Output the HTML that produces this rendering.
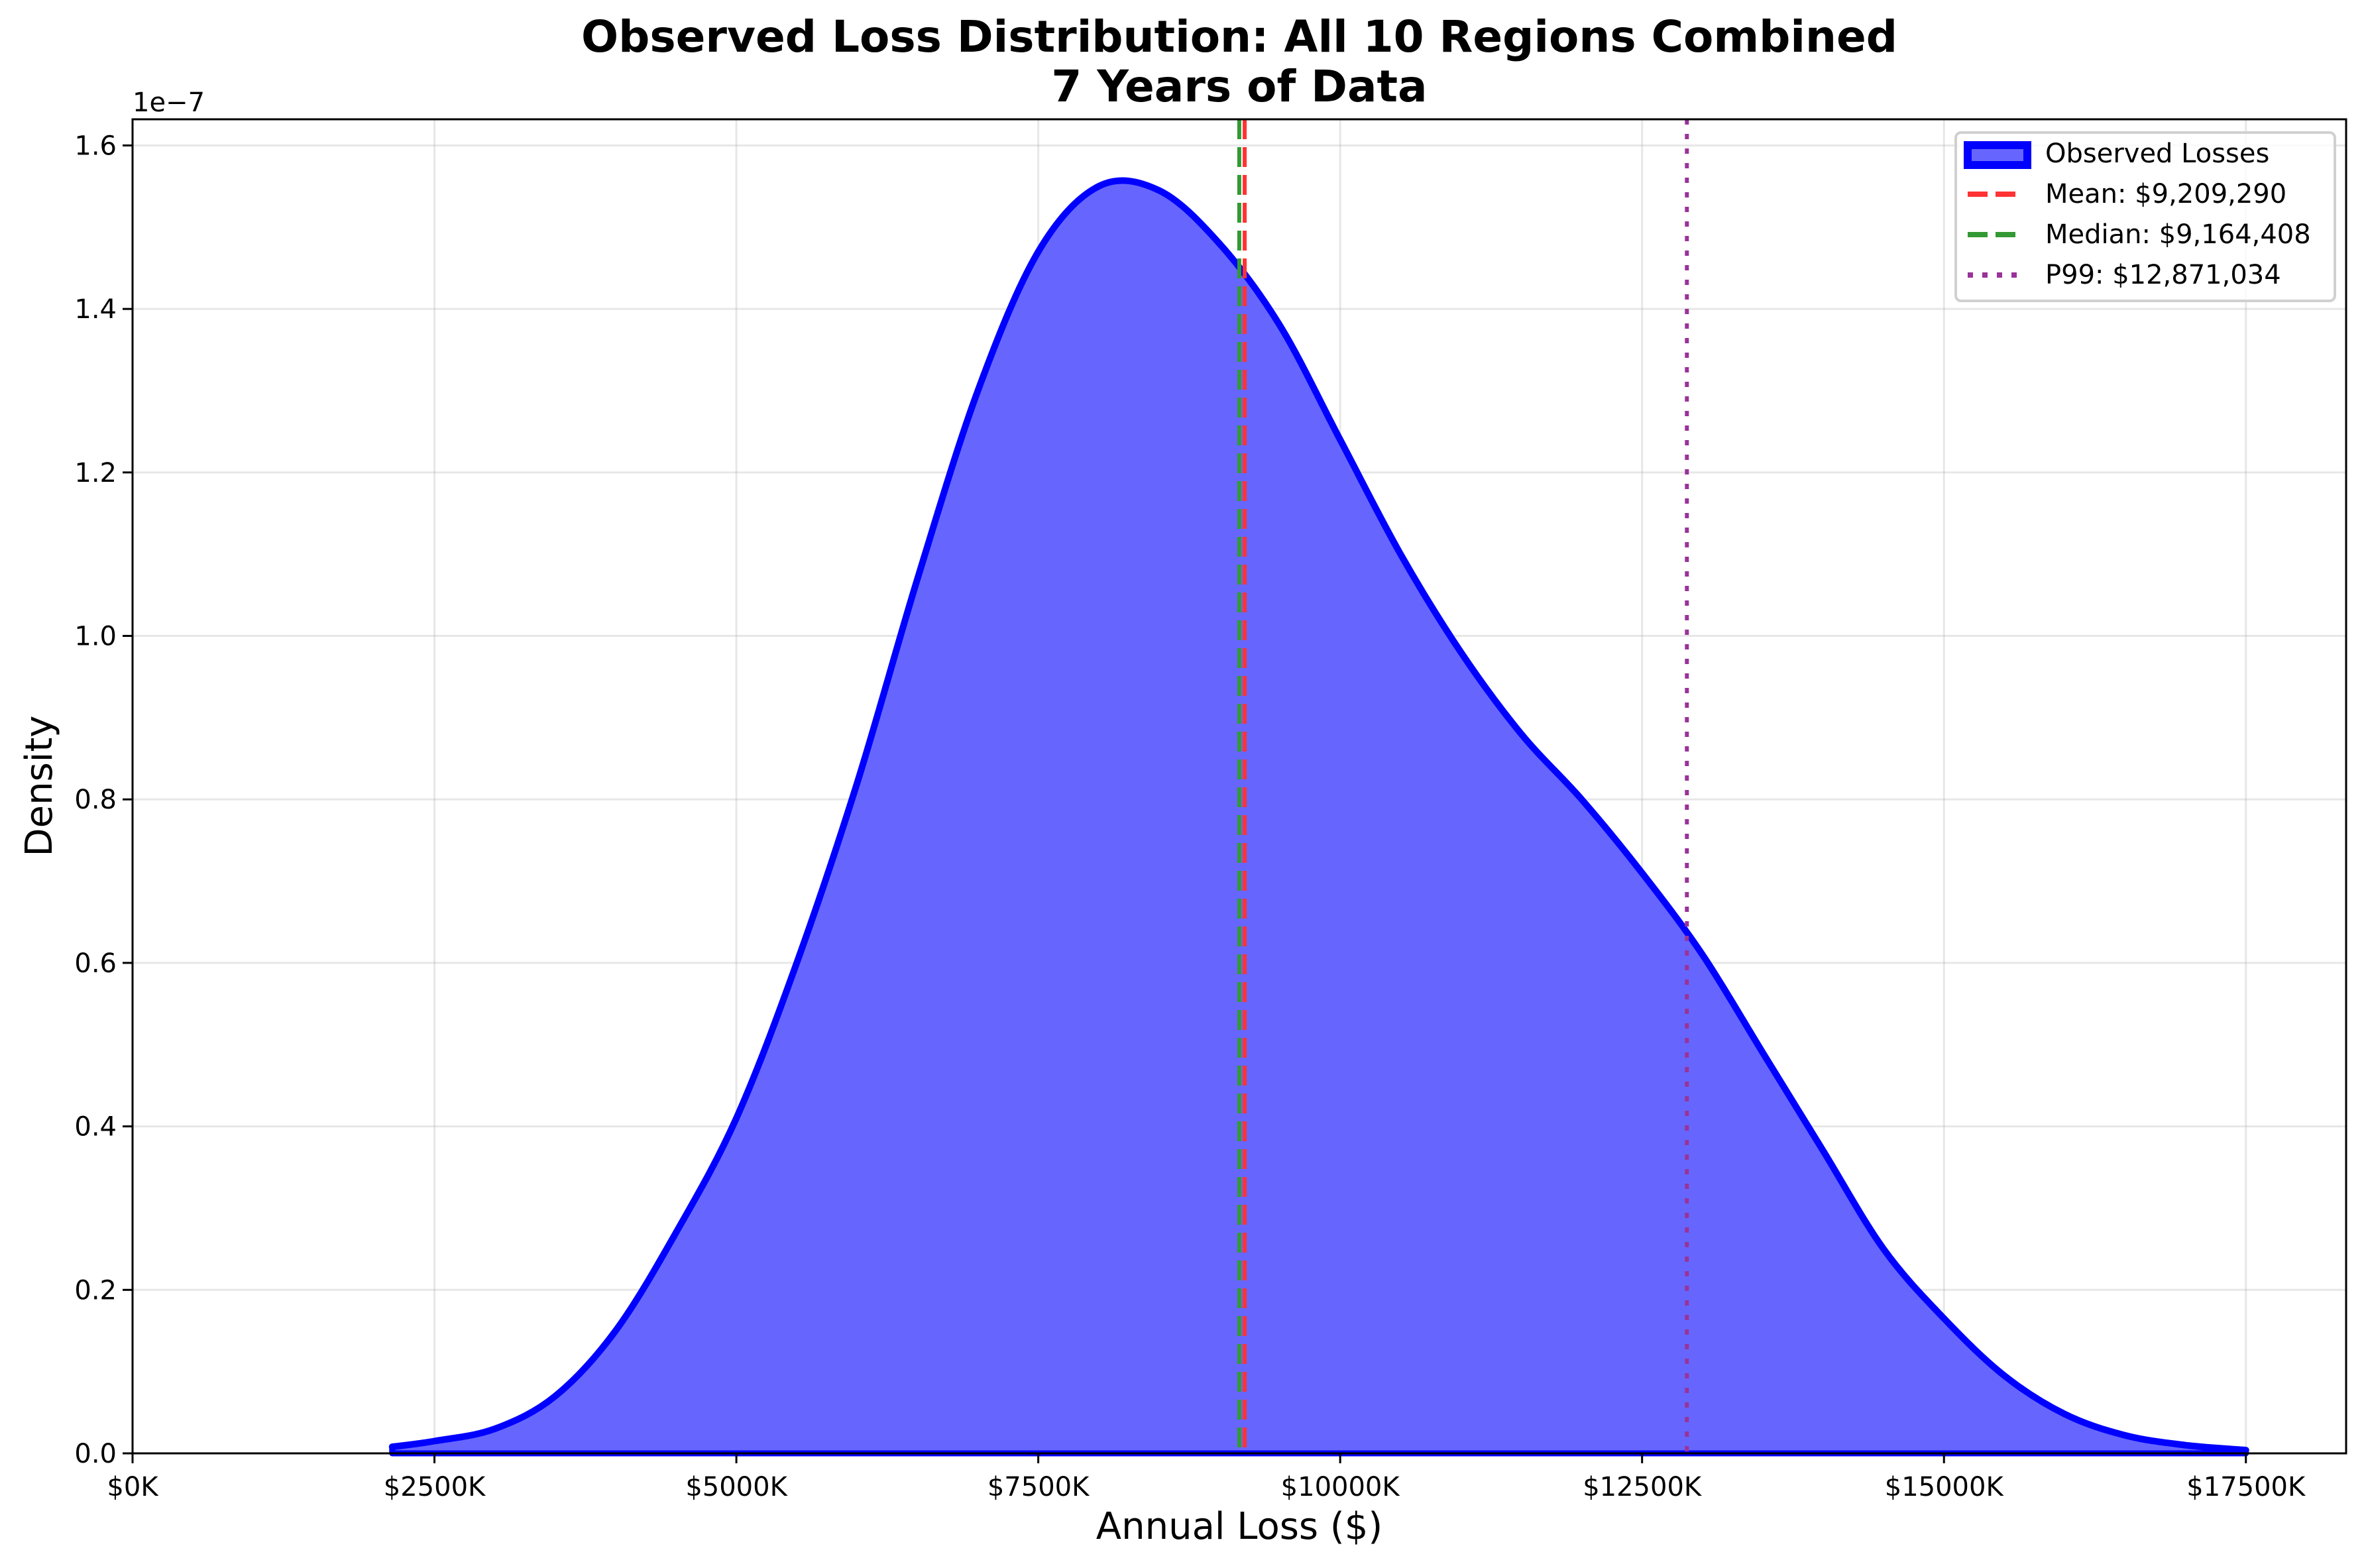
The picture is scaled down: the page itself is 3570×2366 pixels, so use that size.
<!DOCTYPE html>
<html><head><meta charset="utf-8"><style>
html,body{margin:0;padding:0;background:#fff}
svg{display:block}
text{font-family:"DejaVu Sans","Liberation Sans",sans-serif;fill:#000}
</style></head><body>
<svg id="chart" width="3570" height="2366" viewBox="0 0 3570 2366">
<g id="grid"></g>
<g id="marks"></g>
<g id="axes"></g>
<text x="1870" y="78" font-size="66" font-weight="bold" text-anchor="middle">Observed Loss Distribution: All 10 Regions Combined</text>
<text x="1870" y="153" font-size="66" font-weight="bold" text-anchor="middle">7 Years of Data</text>
<text x="1870" y="2322" font-size="56" text-anchor="middle">Annual Loss ($)</text>
<text transform="translate(78,1186) rotate(-90)" font-size="56" text-anchor="middle">Density</text>
<text x="200" y="168" font-size="40">1e−7</text>
<g>
<rect x="2951" y="200" width="572" height="254" rx="8" fill="#fff" fill-opacity="0.8" stroke="#d0d0d0" stroke-width="4"/>
<rect x="2969" y="219" width="90" height="30" fill="#6666ff" stroke="#0000ff" stroke-width="12"/>
<text x="3086" y="234" font-size="40" dominant-baseline="middle">Observed Losses</text>
<line x1="2969" x2="3044" y1="293" y2="293" stroke="#ff3333" stroke-width="8" stroke-dasharray="30,12"/>
<text x="3086" y="295" font-size="40" dominant-baseline="middle">Mean: $9,209,290</text>
<line x1="2969" x2="3044" y1="354" y2="354" stroke="#339933" stroke-width="8" stroke-dasharray="30,12"/>
<text x="3086" y="356" font-size="40" dominant-baseline="middle">Median: $9,164,408</text>
<line x1="2969" x2="3044" y1="415" y2="415" stroke="#993399" stroke-width="8" stroke-dasharray="8,14"/>
<text x="3086" y="417" font-size="40" dominant-baseline="middle">P99: $12,871,034</text>
</g>
</svg>
<script>
const lossK = [2150,2500,3000,3500,4000,4500,5000,5500,6000,6500,7000,7500,8000,8500,9000,9500,10000,10500,11000,11500,12000,12500,13000,13500,14000,14500,15000,15500,16000,16500,17000,17500];
const density = [0.008,0.015,0.03,0.07,0.15,0.27,0.41,0.60,0.82,1.07,1.30,1.47,1.55,1.545,1.48,1.38,1.24,1.10,0.98,0.88,0.80,0.71,0.61,0.49,0.37,0.25,0.165,0.095,0.048,0.022,0.01,0.004];
const xTicks = [0,2500,5000,7500,10000,12500,15000,17500];
const xTickLabels = ["$0K","$2500K","$5000K","$7500K","$10000K","$12500K","$15000K","$17500K"];
const yTicks = [0,0.2,0.4,0.6,0.8,1.0,1.2,1.4,1.6];
const yTickLabels = ["0.0","0.2","0.4","0.6","0.8","1.0","1.2","1.4","1.6"];
const refValues = [9164.408, 9209.290, 12871.034];
const refNames = ["median-line","mean-line","p99-line"];

const L=200,R=3540,T=180,B=2193;
const XMAX=18330, YMAX=1.632;
const xs=v=>L+v/XMAX*(R-L);
const ys=v=>B-v/YMAX*(B-T);
const NS="http://www.w3.org/2000/svg";
function mk(tag,parent,attrs){const e=document.createElementNS(NS,tag);for(const k in attrs)e.setAttribute(k,attrs[k]);parent.appendChild(e);return e;}
const grid=document.getElementById('grid'),marks=document.getElementById('marks'),axes=document.getElementById('axes');

xTicks.forEach((t,i)=>{
  const g=mk('line',grid,{x1:xs(t),x2:xs(t),y1:T,y2:B,stroke:'#b0b0b0','stroke-opacity':0.3,'stroke-width':3});
  
  
  const tk=mk('line',axes,{x1:xs(t),x2:xs(t),y1:B,y2:B+15,stroke:'#000','stroke-width':3});
  
  
  const lb=mk('text',axes,{x:xs(t),y:B+64,'font-size':40,'text-anchor':'middle'});
  lb.textContent=xTickLabels[i];
  
  
});
yTicks.forEach((t,i)=>{
  const g=mk('line',grid,{x1:L,x2:R,y1:ys(t),y2:ys(t),stroke:'#b0b0b0','stroke-opacity':0.3,'stroke-width':3});
  
  
  const tk=mk('line',axes,{x1:L-15,x2:L,y1:ys(t),y2:ys(t),stroke:'#000','stroke-width':3});
  
  
  const lb=mk('text',axes,{x:L-24,y:ys(t)+14,'font-size':40,'text-anchor':'end'});
  lb.textContent=yTickLabels[i];
  
  
});

const P=lossK.map((v,i)=>[xs(v),ys(density[i])]);
let d='M'+P[0][0]+','+P[0][1];
for(let i=0;i<P.length-1;i++){
  const p0=P[Math.max(0,i-1)],p1=P[i],p2=P[i+1],p3=P[Math.min(P.length-1,i+2)];
  const c1=[p1[0]+(p2[0]-p0[0])/6,p1[1]+(p2[1]-p0[1])/6];
  const c2=[p2[0]-(p3[0]-p1[0])/6,p2[1]-(p3[1]-p1[1])/6];
  d+=`C${c1[0]},${c1[1]} ${c2[0]},${c2[1]} ${p2[0]},${p2[1]}`;
}
const fillD=d+`L${P[P.length-1][0]},${ys(0)}L${P[0][0]},${ys(0)}Z`;
const area=mk('path',marks,{d:fillD,fill:'#6666ff',stroke:'#0000ff','stroke-width':9,'stroke-linejoin':'round'});


const line=mk('path',marks,{d:d,fill:'none',stroke:'#0000ff','stroke-width':10,'stroke-linecap':'round'});



const refColors=['#339933','#ff3333','#993399'];
const refDash=['30,12','30,12','8,14'];
refValues.forEach((v,i)=>{
  const l=mk('line',marks,{x1:xs(v),x2:xs(v),y1:T,y2:B,stroke:refColors[i],'stroke-width':6,'stroke-dasharray':refDash[i]});
  
  
});

const frame=mk('rect',axes,{x:L,y:T,width:R-L,height:B-T,fill:'none',stroke:'#000','stroke-width':3});


</script>
</body></html>
